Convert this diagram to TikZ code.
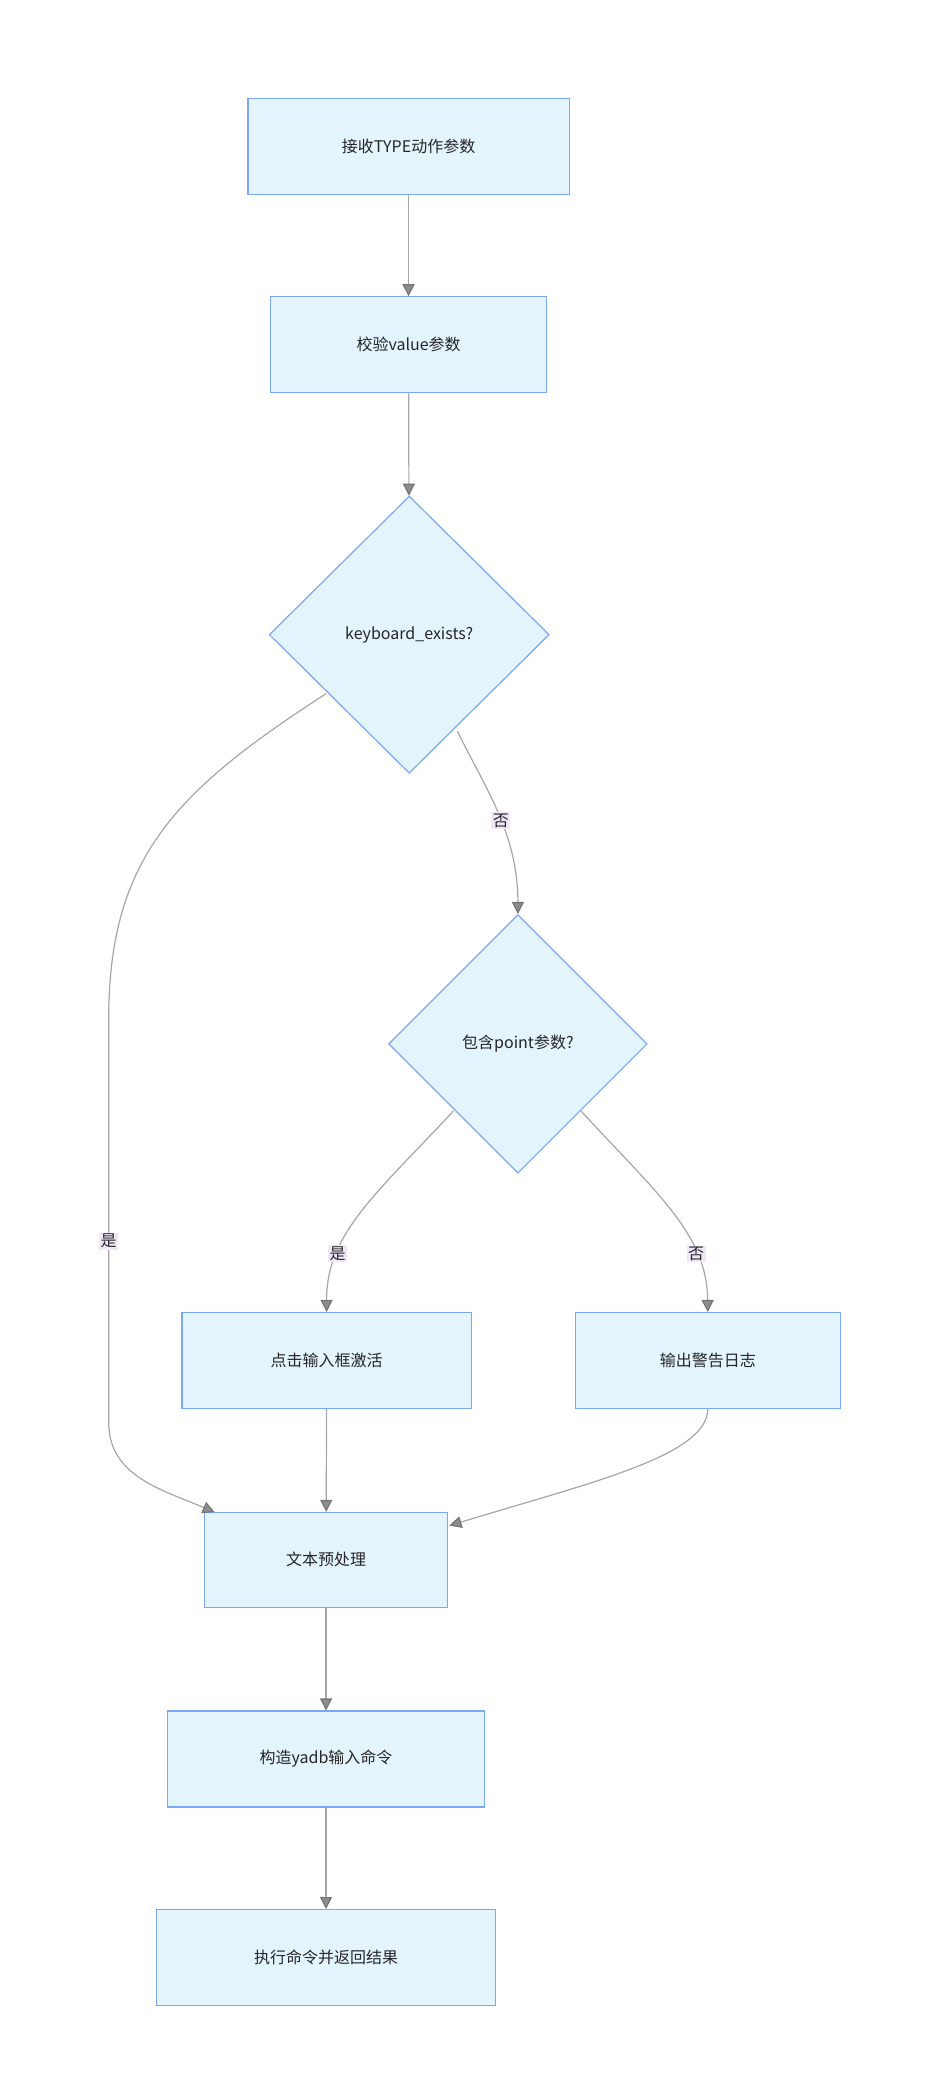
\documentclass[tikz,border=0pt]{standalone}
\usepackage{fontspec}
\setmainfont{Noto Sans CJK SC}
\usetikzlibrary{shapes.geometric,arrows.meta}
\definecolor{nfill}{HTML}{E3F4FD}
\definecolor{nline}{HTML}{7BA7F7}
\definecolor{eline}{HTML}{A6A6A6}
\definecolor{lbg}{HTML}{F0E6F7}
\begin{document}
\begin{tikzpicture}[x=1.0065pt,y=-1.0065pt,
  box/.style={draw=nline,fill=nfill,line width=0.9pt,inner sep=0pt,font=\fontsize{12}{14}\selectfont,text=black!85},
  dia/.style={diamond,draw=nline,fill=nfill,line width=0.9pt,inner sep=0pt,font=\fontsize{12}{14}\selectfont,text=black!85,aspect=1},
  edge/.style={draw=eline,line width=0.9pt,-{Triangle[length=9pt,width=9pt,fill=eline!85!black,color=eline!70!black]}},
  lab/.style={fill=lbg,inner sep=1pt,font=\fontsize{12}{14}\selectfont,text=black!85}]
\useasboundingbox (0,0) rectangle (690,1545);
\node[box,minimum width=241,minimum height=72] (A) at (304.5,109) {接收TYPE动作参数};
\node[box,minimum width=207,minimum height=72] (B) at (304.5,257) {校验value参数};
\node[dia,minimum width=210,minimum height=208] (C) at (305,473) {keyboard\_exists?};
\node[dia,minimum width=194,minimum height=194] (D) at (386,778) {包含point参数?};
\node[box,minimum width=217,minimum height=72] (E) at (243.5,1014) {点击输入框激活};
\node[box,minimum width=199,minimum height=72] (F) at (527.5,1014) {输出警告日志};
\node[box,minimum width=182,minimum height=71] (G) at (243,1162.5) {文本预处理};
\node[box,minimum width=238,minimum height=72] (H) at (243,1311) {构造yadb输入命令};
\node[box,minimum width=254,minimum height=72] (I) at (243,1459) {执行命令并返回结果};
\coordinate (c1) at (341,545);
\coordinate (c2) at (243,517);
\coordinate (d1) at (338,828);
\coordinate (d2) at (433,828);
\draw[edge] (A) -- (B);
\draw[edge] (B) -- (C);
\draw[edge] (c1) .. controls (360,585) and (386,620) .. node[lab,pos=0.55]{否} (D.north);
\draw[edge] (c2) .. controls (130,590) and (81,640) .. (81,760) -- node[lab,pos=0.55]{是} (81,1060) .. controls (81,1100) and (120,1110) .. (160,1127);
\draw[edge] (d1) .. controls (280,890) and (243,920) .. node[lab,pos=0.72]{是} (E.north);
\draw[edge] (d2) .. controls (490,890) and (527,920) .. node[lab,pos=0.72]{否} (F.north);
\draw[edge] (E) -- (G);
\draw[edge] (F.south) .. controls (527,1085) and (440,1105) .. (335,1137);
\draw[edge] (G) -- (H);
\draw[edge] (H) -- (I);
\end{tikzpicture}
\end{document}
